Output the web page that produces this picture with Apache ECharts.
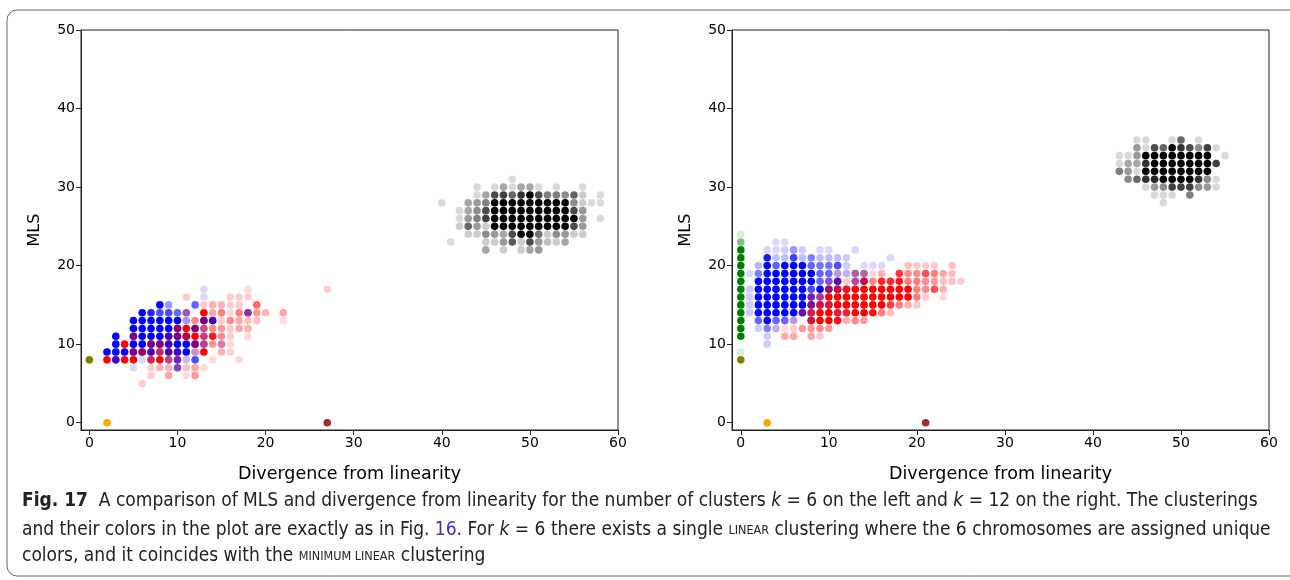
<!DOCTYPE html>
<html><head><meta charset="utf-8">
<script src="https://cdn.jsdelivr.net/npm/echarts@6/dist/echarts.min.js"></script>
<style>html,body{margin:0;padding:0;background:#fff}#c{width:1290px;height:580px}</style>
</head><body><div id="c"></div>
<script>
// tick labels
const xTicks = [0, 10, 20, 30, 40, 50, 60];
const yTicks = [0, 10, 20, 30, 40, 50];

// ---- k = 6 (left) : [divergence, MLS, opacity] ----
const k6Blue = [
 [13,17,.15],[13,16,.15],
 [8,15,1],[9,15,.4],[12,15,.6],
 [6,14,1],[7,14,.85],[8,14,.7],[9,14,.7],[10,14,.6],[11,14,.5],[18,14,.7],
 [5,13,1],[6,13,1],[7,13,1],[8,13,1],[9,13,1],[10,13,1],[11,13,.35],[13,13,1],[14,13,1],
 [5,12,1],[6,12,1],[7,12,1],[8,12,1],[9,12,1],[10,12,1],[12,12,1],[13,12,.4],
 [3,11,1],[5,11,1],[6,11,1],[7,11,1],[8,11,1],[9,11,1],[10,11,1],[11,11,1],[13,11,.5],
 [3,10,1],[5,10,1],[6,10,1],[7,10,1],[8,10,1],[9,10,1],[10,10,1],[11,10,1],[12,10,1],[13,10,.5],[15,10,.25],
 [2,9,1],[3,9,1],[4,9,1],[5,9,1],[6,9,1],[7,9,1],[8,9,.6],[9,9,1],[10,9,1],[11,9,1],[12,9,.25],
 [3,8,1],[6,8,.15],[7,8,.5],[9,8,.5],[10,8,.8],[11,8,.2],[12,8,.7],
 [5,7,.15],[10,7,.65]
];
const k6Red = [
 [18,17,.15],[27,17,.2],
 [11,16,.2],[16,16,.2],[17,16,.2],[18,16,.2],
 [13,15,.2],[14,15,.3],[15,15,.3],[16,15,.2],[17,15,.2],[19,15,.6],
 [11,14,.3],[13,14,1],[14,14,.35],[15,14,.5],[16,14,.15],[17,14,.5],[18,14,.35],[19,14,.4],[20,14,.3],[22,14,.35],
 [11,13,.1],[12,13,.45],[13,13,.5],[14,13,.25],[15,13,.2],[16,13,.45],[17,13,.35],[18,13,.25],[19,13,.25],[22,13,.15],
 [10,12,.55],[11,12,1],[12,12,.5],[13,12,.5],[14,12,.45],[15,12,.4],[16,12,.2],[17,12,.35],[18,12,.3],
 [5,11,.5],[9,11,.3],[10,11,.5],[11,11,.8],[12,11,1],[13,11,.5],[14,11,.9],[15,11,.45],[16,11,.2],[18,11,.15],
 [4,10,1],[7,10,.5],[8,10,.55],[9,10,.3],[12,10,.5],[13,10,.45],[14,10,.4],[15,10,.35],[16,10,.15],
 [5,9,.5],[6,9,.6],[7,9,.3],[8,9,.6],[9,9,.3],[10,9,.25],[12,9,.25],[13,9,1],[15,9,.3],[16,9,.2],
 [2,8,1],[3,8,.25],[4,8,1],[5,8,1],[7,8,.7],[8,8,1],[9,8,.45],[10,8,.3],[11,8,.1],[14,8,.15],[17,8,.15],
 [7,7,.2],[8,7,.3],[9,7,.3],[10,7,.2],[11,7,.25],[12,7,.35],[13,7,.15],
 [7,6,.2],[9,6,.35],[11,6,.15],[12,6,.4],
 [6,5,.2]
];
const k6Black = [
 [48,31,.15],
 [44,30,.15],[46,30,.15],[47,30,.35],[48,30,.15],[49,30,.35],[50,30,.35],[51,30,.15],[53,30,.15],[56,30,.15],
 [44,29,.15],[45,29,.35],[46,29,.7],[47,29,.75],[48,29,.6],[49,29,.8],[50,29,1],[51,29,.7],[52,29,.5],[53,29,.5],[54,29,.45],[55,29,.6],[56,29,.2],[58,29,.15],
 [40,28,.15],[43,28,.35],[44,28,.4],[45,28,.5],[46,28,1],[47,28,1],[48,28,1],[49,28,1],[50,28,1],[51,28,1],[52,28,1],[53,28,1],[54,28,1],[55,28,.45],[56,28,.2],[57,28,.15],[58,28,.15],
 [42,27,.15],[43,27,.35],[44,27,.45],[45,27,.7],[46,27,1],[47,27,1],[48,27,1],[49,27,1],[50,27,1],[51,27,1],[52,27,1],[53,27,1],[54,27,1],[55,27,.7],[56,27,.4],
 [42,26,.15],[43,26,.4],[44,26,.5],[45,26,.75],[46,26,1],[47,26,1],[48,26,1],[49,26,1],[50,26,1],[51,26,1],[52,26,1],[53,26,1],[54,26,1],[55,26,1],[56,26,.4],[58,26,.15],
 [42,25,.2],[43,25,.6],[44,25,.4],[45,25,.2],[46,25,1],[47,25,1],[48,25,1],[49,25,1],[50,25,1],[51,25,1],[52,25,1],[53,25,1],[54,25,1],[55,25,.7],[56,25,.4],
 [43,24,.2],[44,24,.2],[45,24,.45],[46,24,.4],[47,24,.35],[48,24,.7],[49,24,1],[50,24,1],[51,24,.55],[52,24,.2],[53,24,.45],[54,24,.4],[55,24,.2],[56,24,.2],
 [41,23,.15],[45,23,.2],[46,23,.2],[47,23,.4],[48,23,.65],[49,23,.2],[50,23,.7],[51,23,.4],[52,23,.25],[53,23,.2],[54,23,.35],
 [45,22,.35],[47,22,.2],[49,22,.2],[50,22,.35],[51,22,.4]
];
const k6Olive = [[0,8,1]];
const k6Orange = [[2,0,1]];
const k6Brown = [[27,0,1]];

// ---- k = 12 (right) ----
const k12Blue = [
 [4,23,.15],[5,23,.15],
 [3,22,.15],[4,22,.15],[5,22,.2],[6,22,.4],[7,22,.2],[9,22,.15],[10,22,.15],[13,22,.15],
 [3,21,.9],[4,21,.25],[5,21,.25],[6,21,.75],[7,21,.25],[8,21,.5],[9,21,.25],[10,21,.25],[11,21,.25],[12,21,.2],[17,21,.15],
 [2,20,.3],[3,20,1],[4,20,.6],[5,20,1],[6,20,1],[7,20,1],[8,20,.6],[9,20,.55],[10,20,.55],[11,20,.7],[12,20,.2],[14,20,.15],[15,20,.15],[16,20,.15],
 [1,19,.15],[2,19,.5],[3,19,1],[4,19,1],[5,19,1],[6,19,1],[7,19,1],[8,19,1],[9,19,.6],[10,19,.6],[11,19,.3],[12,19,.3],[13,19,.45],[14,19,.4],
 [2,18,1],[3,18,1],[4,18,1],[5,18,1],[6,18,1],[7,18,1],[8,18,1],[9,18,.6],[10,18,.6],[11,18,.9],[13,18,.5],[14,18,.8],
 [1,17,.2],[2,17,1],[3,17,1],[4,17,1],[5,17,1],[6,17,1],[7,17,1],[8,17,.7],[9,17,1],[10,17,.9],[11,17,.9],[12,17,.5],
 [1,16,.2],[2,16,1],[3,16,1],[4,16,1],[5,16,1],[6,16,1],[7,16,1],[8,16,.8],[9,16,.6],
 [1,15,.2],[2,15,1],[3,15,1],[4,15,1],[5,15,1],[6,15,1],[7,15,1],[8,15,.9],[9,15,.7],[10,15,.6],
 [1,14,.2],[2,14,1],[3,14,1],[4,14,1],[5,14,1],[6,14,1],[7,14,.9],[8,14,.6],[11,14,.4],[12,14,.3],
 [2,13,.6],[3,13,1],[4,13,.6],[5,13,.6],[6,13,.3],[8,13,.7],
 [2,12,.2],[3,12,.5],[4,12,.25],
 [3,11,.2],[3,10,.2]
];
const k12Red = [
 [19,20,.25],[20,20,.2],[21,20,.2],[22,20,.2],[24,20,.25],
 [11,19,.15],[13,19,.35],[14,19,.35],[15,19,.15],[16,19,.3],[18,19,.8],[19,19,.45],[20,19,.45],[21,19,.7],[22,19,.5],[23,19,.35],[24,19,.25],
 [10,18,.2],[11,18,.3],[12,18,.2],[13,18,.4],[14,18,.7],[15,18,.45],[16,18,.85],[17,18,.85],[18,18,.9],[19,18,.5],[20,18,.5],[21,18,.45],[22,18,.4],[23,18,.25],[24,18,.25],[25,18,.2],
 [10,17,.55],[11,17,.8],[12,17,.85],[13,17,1],[14,17,1],[15,17,1],[16,17,1],[17,17,1],[18,17,1],[19,17,1],[20,17,.5],[21,17,.45],[22,17,.7],[23,17,.3],
 [8,16,.35],[9,16,.45],[10,16,1],[11,16,1],[12,16,1],[13,16,1],[14,16,1],[15,16,1],[16,16,1],[17,16,1],[18,16,1],[19,16,1],[20,16,.5],[21,16,.2],[23,16,.15],
 [8,15,.45],[9,15,.75],[10,15,.8],[11,15,1],[12,15,1],[13,15,1],[14,15,1],[15,15,1],[16,15,1],[17,15,.75],[18,15,.5],[19,15,.3],[20,15,.2],
 [7,14,.35],[8,14,.7],[9,14,1],[10,14,1],[11,14,.8],[12,14,.8],[13,14,1],[14,14,1],[15,14,.95],[16,14,.5],[17,14,.25],
 [6,13,.15],[8,13,.8],[9,13,1],[10,13,1],[11,13,.95],[12,13,.3],[13,13,.45],[14,13,.4],
 [4,12,.1],[5,12,.15],[6,12,.2],[7,12,.4],[8,12,.4],[9,12,.45],[10,12,.4],
 [5,11,.35],[6,11,.35],[8,11,.35],[9,11,.2]
];
const k12Black = [
 [45,36,.15],[46,36,.15],[49,36,.15],[50,36,.6],[52,36,.15],
 [45,35,.4],[46,35,.15],[47,35,.7],[48,35,.6],[49,35,1],[50,35,.8],[51,35,.7],[52,35,.45],[53,35,.75],[54,35,.15],
 [43,34,.15],[44,34,.15],[45,34,.4],[46,34,1],[47,34,1],[48,34,1],[49,34,1],[50,34,1],[51,34,1],[52,34,1],[53,34,1],[55,34,.15],
 [43,33,.15],[44,33,.35],[45,33,.35],[46,33,.8],[47,33,1],[48,33,1],[49,33,1],[50,33,1],[51,33,1],[52,33,1],[53,33,1],[54,33,.75],
 [43,32,.5],[44,32,.4],[45,32,.15],[46,32,1],[47,32,1],[48,32,1],[49,32,1],[50,32,1],[51,32,1],[52,32,1],[53,32,1],
 [44,31,.45],[45,31,.6],[46,31,.8],[47,31,.85],[48,31,1],[49,31,1],[50,31,1],[51,31,1],[52,31,.8],[53,31,.45],[54,31,.15],
 [46,30,.15],[47,30,.4],[48,30,.45],[49,30,.75],[50,30,.75],[51,30,.75],[52,30,.45],[53,30,.4],[54,30,.15],
 [47,29,.15],[48,29,.15],[49,29,.15],[51,29,.5],
 [48,28,.15]
];
const k12Green = [
 [0,24,.15],[0,23,.5],[0,22,1],[0,21,1],[0,20,1],[0,19,1],[0,18,1],[0,17,1],[0,16,1],
 [0,15,1],[0,14,1],[0,13,1],[0,12,1],[0,11,1],[0,9,.15]
];
const k12Olive = [[0,8,1]];
const k12Orange = [[3,0,1]];
const k12Brown = [[21,0,1]];

const FONT = 'DejaVu Sans';
function pts(arr){ return arr.map(d => ({ value: [d[0], d[1]], itemStyle: { opacity: d[2] } })); }
function sc(arr, color, gi){
  return { type: 'scatter', xAxisIndex: gi, yAxisIndex: gi, symbolSize: 7.6, data: pts(arr),
    itemStyle: { color: color }, emphasis: { disabled: true }, silent: true, animation: false };
}
function xAx(gi, min){
  return { type: 'value', gridIndex: gi, min: min, max: 60,
    name: 'Divergence from linearity', nameLocation: 'middle', nameGap: 35,
    nameTextStyle: { fontFamily: FONT, fontSize: 17.5, color: '#000' },
    axisLine: { show: true, onZero: false, lineStyle: { color: '#222', width: 1 } },
    axisTick: { show: true, length: 5, customValues: xTicks, lineStyle: { color: '#222' } },
    axisLabel: { customValues: xTicks, margin: 6, fontFamily: FONT, fontSize: 14, color: '#000' },
    splitLine: { show: false } };
}
function yAx(gi, min){
  return { type: 'value', gridIndex: gi, min: min, max: 50,
    name: 'MLS', nameLocation: 'middle', nameGap: 38,
    nameTextStyle: { fontFamily: FONT, fontSize: 16, color: '#000' },
    axisLine: { show: true, onZero: false, lineStyle: { color: '#222', width: 1 } },
    axisTick: { show: true, length: 5, customValues: yTicks, lineStyle: { color: '#222' } },
    axisLabel: { customValues: yTicks, margin: 6, fontFamily: FONT, fontSize: 14, color: '#000' },
    splitLine: { show: false } };
}

const capFont = '"Liberation Sans Narrow","DejaVu Sans Condensed","Noto Sans",sans-serif';
const rich = {
  b: { fontWeight: 'bold', fontSize: 19, fontFamily: capFont, fill: '#222' },
  i: { fontStyle: 'italic', fontSize: 19, fontFamily: capFont, fill: '#222' },
  blue: { fontSize: 19, fontFamily: capFont, fill: '#3333cc' },
  sc: { fontSize: 12.5, fontFamily: capFont, fill: '#222' }
};
function cap(text, top){
  return { type: 'text', left: 22, top: top, silent: true,
    style: { text: text, rich: rich, fontSize: 19, fontFamily: capFont, fill: '#222' } };
}

const chart = echarts.init(document.getElementById('c'), null, { renderer: 'canvas' });
chart.setOption({
  animation: false,
  backgroundColor: '#fff',
  grid: [
    { left: 81, top: 30, width: 537, height: 400, show: true, borderColor: '#222', borderWidth: 1, backgroundColor: 'transparent' },
    { left: 732, top: 30, width: 537, height: 400, show: true, borderColor: '#222', borderWidth: 1, backgroundColor: 'transparent' }
  ],
  xAxis: [ xAx(0, -0.95), xAx(1, -1) ],
  yAxis: [ yAx(0, -0.93), yAx(1, -0.93) ],
  series: [
    sc(k6Blue, '#0000ff', 0), sc(k6Red, '#ff0000', 0), sc(k6Black, '#000000', 0),
    sc(k6Olive, '#808000', 0), sc(k6Orange, '#ffa500', 0), sc(k6Brown, '#a52a2a', 0),
    sc(k12Blue, '#0000ff', 1), sc(k12Red, '#ff0000', 1), sc(k12Black, '#000000', 1),
    sc(k12Green, '#008000', 1), sc(k12Olive, '#808000', 1), sc(k12Orange, '#ffa500', 1), sc(k12Brown, '#a52a2a', 1)
  ],
  graphic: [
    { type: 'rect', silent: true, shape: { x: 7, y: 10, width: 1320, height: 566, r: [10, 0, 0, 10] },
      style: { fill: 'none', stroke: '#666', lineWidth: 1 } },
    cap('{b|Fig. 17}  A comparison of MLS and divergence from linearity for the number of clusters {i|k} = 6 on the left and {i|k} = 12 on the right. The clusterings', 492),
    cap('and their colors in the plot are exactly as in Fig. {blue|16}. For {i|k} = 6 there exists a single {sc|LINEAR} clustering where the 6 chromosomes are assigned unique', 521),
    cap('colors, and it coincides with the {sc|MINIMUM LINEAR} clustering', 547)
  ]
});
</script></body></html>
